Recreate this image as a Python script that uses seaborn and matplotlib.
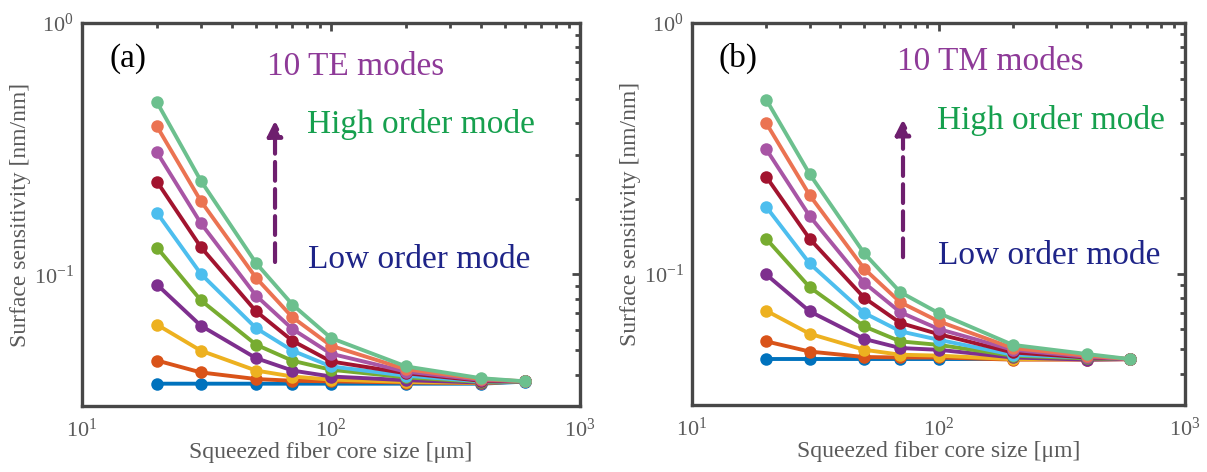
import numpy as np
import pandas as pd
import matplotlib
matplotlib.use("Agg")
import matplotlib.pyplot as plt
import seaborn as sns

# Squeezed fiber core sizes (um)
core_size = [20, 30, 50, 70, 100, 200, 400, 600]

# Surface sensitivity (nm/nm), one row per mode, lowest order first
te_sensitivity = [
    [0.0368, 0.0368, 0.0368, 0.0368, 0.0368, 0.0368, 0.0368, 0.0375],
    [0.0455, 0.0408, 0.0384, 0.0378, 0.0376, 0.0372, 0.0370, 0.0376],
    [0.0632, 0.0498, 0.0415, 0.0393, 0.0382, 0.0374, 0.0371, 0.0376],
    [0.0912, 0.0626, 0.0465, 0.0415, 0.0393, 0.0380, 0.0372, 0.0376],
    [0.128, 0.079, 0.0526, 0.0454, 0.0418, 0.0390, 0.0374, 0.0376],
    [0.176, 0.1006, 0.0612, 0.0498, 0.0431, 0.0396, 0.0376, 0.0376],
    [0.234, 0.1286, 0.0714, 0.0545, 0.0451, 0.0405, 0.0378, 0.0376],
    [0.306, 0.160, 0.0824, 0.0607, 0.0484, 0.0411, 0.0381, 0.0376],
    [0.388, 0.196, 0.097, 0.0676, 0.0521, 0.0420, 0.0384, 0.0376],
    [0.484, 0.236, 0.111, 0.0759, 0.0559, 0.0431, 0.0387, 0.0376],
]

tm_sensitivity = [
    [0.0457, 0.0457, 0.0457, 0.0457, 0.0457, 0.0457, 0.0457, 0.0457],
    [0.0538, 0.0490, 0.0466, 0.0464, 0.0464, 0.0455, 0.0455, 0.0457],
    [0.0713, 0.0577, 0.0498, 0.0476, 0.0472, 0.0457, 0.0457, 0.0457],
    [0.0994, 0.0709, 0.0550, 0.0506, 0.0498, 0.0464, 0.0455, 0.0457],
    [0.138, 0.0885, 0.0617, 0.0538, 0.0521, 0.0472, 0.0460, 0.0457],
    [0.185, 0.110, 0.0698, 0.0590, 0.0546, 0.0476, 0.0464, 0.0457],
    [0.244, 0.138, 0.0802, 0.0637, 0.0575, 0.0486, 0.0464, 0.0457],
    [0.314, 0.170, 0.092, 0.0703, 0.0603, 0.0498, 0.0467, 0.0457],
    [0.399, 0.206, 0.1047, 0.0770, 0.0647, 0.0506, 0.0472, 0.0457],
    [0.495, 0.250, 0.1206, 0.0845, 0.0698, 0.0521, 0.0479, 0.0457],
]

mode_colors = ["#0072BD", "#D95319", "#EDB120", "#7E2F8E", "#77AC30",
               "#4DBEEE", "#A2142F", "#A855A5", "#EB7352", "#6CC08E"]

panel_tags = ["(a)", "(b)"]
panel_titles = ["10 TE modes", "10 TM modes"]
x_label = "Squeezed fiber core size [\u03bcm]"
y_label = "Surface sensitivity [nm/nm]"

sns.set_theme(style="white")
plt.rcParams["font.family"] = ["Liberation Serif", "DejaVu Serif"]
plt.rcParams["mathtext.fontset"] = "custom"
plt.rcParams["mathtext.rm"] = "Liberation Serif"
plt.rcParams["mathtext.default"] = "regular"
plt.rcParams["axes.unicode_minus"] = False


def to_frame(table):
    rows = []
    for m, vals in enumerate(table):
        for x, v in zip(core_size, vals):
            rows.append({"size": x, "sens": v, "mode": m})
    return pd.DataFrame(rows)


fig = plt.figure(figsize=(12.07, 4.72), dpi=100)
ax_a = fig.add_axes([82 / 1207, 1 - 406 / 472, 498 / 1207, 383 / 472])
ax_b = fig.add_axes([692 / 1207, 1 - 405 / 472, 493 / 1207, 382 / 472])

frame_color = "#474747"
label_color = "#5a5a5a"

# per-panel text anchors in axes fraction
layout = [
    dict(tag=(0.056, 0.885), title=(0.371, 0.864), high=(0.452, 0.713),
         low=(0.454, 0.360), arrow_x=0.3876, arrow_y=(0.376, 0.745)),
    dict(tag=(0.053, 0.885), title=(0.416, 0.877), high=(0.497, 0.722),
         low=(0.499, 0.369), arrow_x=0.428, arrow_y=(0.387, 0.748)),
]

for ax, table, tag, title, lay in zip([ax_a, ax_b], [te_sensitivity, tm_sensitivity],
                                      panel_tags, panel_titles, layout):
    df = to_frame(table)
    sns.lineplot(data=df, x="size", y="sens", hue="mode", palette=mode_colors,
                 marker="o", markersize=9, markeredgewidth=0, linewidth=2.8,
                 legend=False, ax=ax)
    ax.set_xscale("log")
    ax.set_yscale("log")
    ax.set_xlim(10, 1000)
    ax.set_ylim(0.03, 1)
    ax.set_xticks([10, 100, 1000])
    ax.set_yticks([0.1, 1])
    ax.tick_params(which="both", direction="in", top=True, right=True,
                   colors=frame_color, labelcolor=label_color, labelsize=16)
    ax.tick_params(axis="x", which="major", length=6, width=2, pad=9)
    ax.tick_params(axis="y", which="major", length=6, width=2, pad=6)
    ax.tick_params(which="minor", length=3.5, width=2)
    for sp in ax.spines.values():
        sp.set_color(frame_color)
        sp.set_linewidth(2.4)
    ax.set_xlabel(x_label, fontsize=17, color=label_color, labelpad=0)
    ax.set_ylabel(y_label, fontsize=17, color=label_color, labelpad=2)

    ax.text(*lay["tag"], tag, transform=ax.transAxes, fontsize=24,
            color="black", va="baseline", ha="left")
    ax.text(*lay["title"], title, transform=ax.transAxes, fontsize=24,
            color="#8E3A98", va="baseline", ha="left")
    ax.text(*lay["high"], "High order mode", transform=ax.transAxes, fontsize=24,
            color="#16A04E", va="baseline", ha="left")
    ax.text(*lay["low"], "Low order mode", transform=ax.transAxes, fontsize=24,
            color="#1E2488", va="baseline", ha="left")
    y0, y1 = lay["arrow_y"]
    ax.annotate("", xy=(lay["arrow_x"], y1), xytext=(lay["arrow_x"], y0),
                xycoords="axes fraction",
                arrowprops=dict(arrowstyle="-|>,head_length=0.9,head_width=0.45",
                                mutation_scale=10, color="#6E1F6E", lw=3,
                                linestyle=(0, (4.5, 2)),
                                shrinkA=0, shrinkB=0))

fig.savefig("out.png", dpi=100)
